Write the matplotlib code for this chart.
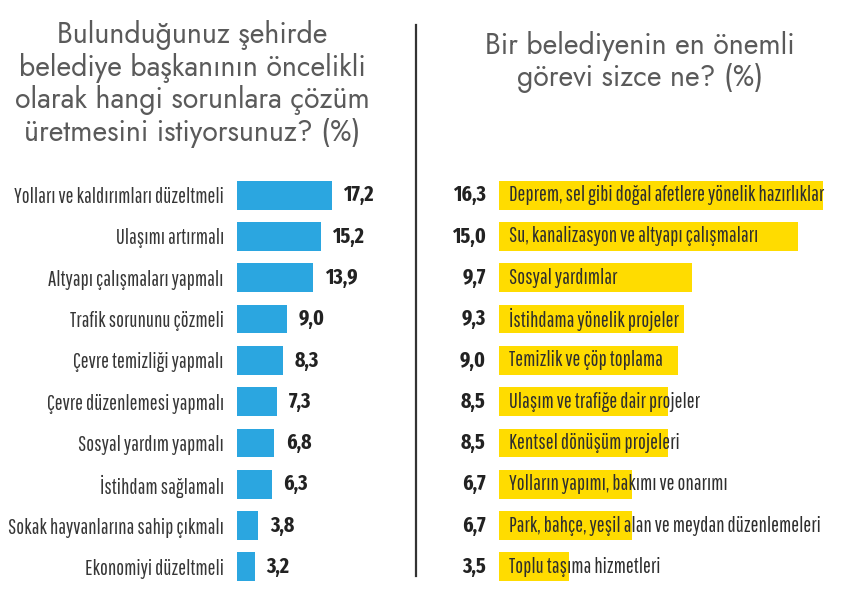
import matplotlib.pyplot as plt
from matplotlib.lines import Line2D

# left panel: which problems should the mayor solve first (%)
left_labels = [
    "Yolları ve kaldırımları düzeltmeli",
    "Ulaşımı artırmalı",
    "Altyapı çalışmaları yapmalı",
    "Trafik sorununu çözmeli",
    "Çevre temizliği yapmalı",
    "Çevre düzenlemesi yapmalı",
    "Sosyal yardım yapmalı",
    "İstihdam sağlamalı",
    "Sokak hayvanlarına sahip çıkmalı",
    "Ekonomiyi düzeltmeli",
]
left_values = [17.2, 15.2, 13.9, 9.0, 8.3, 7.3, 6.8, 6.3, 3.8, 3.2]

# right panel: most important duty of a municipality (%)
right_labels = [
    "Deprem, sel gibi doğal afetlere yönelik hazırlıklar",
    "Su, kanalizasyon ve altyapı çalışmaları",
    "Sosyal yardımlar",
    "İstihdama yönelik projeler",
    "Temizlik ve çöp toplama",
    "Ulaşım ve trafiğe dair projeler",
    "Kentsel dönüşüm projeleri",
    "Yolların yapımı, bakımı ve onarımı",
    "Park, bahçe, yeşil alan ve meydan düzenlemeleri",
    "Toplu taşıma hizmetleri",
]
right_values = [16.3, 15.0, 9.7, 9.3, 9.0, 8.5, 8.5, 6.7, 6.7, 3.5]

left_title = ("Bulunduğunuz şehirde\nbelediye başkanının öncelikli\n"
              "olarak hangi sorunlara çözüm\nüretmesini istiyorsunuz? (%)")
right_title = "Bir belediyenin en önemli\ngörevi sizce ne? (%)"

W, H = 860, 596
BLUE = "#2ba6e0"
YELLOW = "#ffdc00"
LABEL_FONT = ["Pathway Gothic One", "DejaVu Sans"]
NUM_FONT = ["Fira Sans Extra Condensed", "DejaVu Sans"]
TITLE_FONT = ["Jost", "DejaVu Sans"]


def fx(px):
    return px / W


def fy(px):
    return 1 - px / H


fig = plt.figure(figsize=(W / 100, H / 100), dpi=100)

row_top, row_bot = 174.4, 587.6
ax_b = fy(row_bot)
ax_h = (row_bot - row_top) / H

# left chart, 5.5 px per unit
axl = fig.add_axes([fx(237), ax_b, 20 * 5.5 / W, ax_h])
ypos = list(range(len(left_values)))
axl.barh(ypos, left_values, height=0.70, color=BLUE)
axl.set_xlim(0, 20)
axl.set_ylim(len(left_values) - 0.5, -0.5)
axl.set_yticks(ypos)
axl.set_yticklabels(left_labels, family=LABEL_FONT, fontsize=15, color="#363636")
axl.tick_params(axis="y", length=0, pad=9.5)
axl.set_xticks([])
for v, y in zip(left_values, ypos):
    axl.annotate(f"{v:.1f}".replace(".", ","), (v, y), xytext=(8.5, 0),
                 textcoords="offset points", ha="left", va="center",
                 family=NUM_FONT, fontsize=15.5, fontweight="bold", color="#222222")

# right chart, 19.9 px per unit
axr = fig.add_axes([fx(499), ax_b, 18 * 19.9 / W, ax_h])
ypos = list(range(len(right_values)))
axr.barh(ypos, right_values, height=0.70, color=YELLOW)
axr.set_xlim(0, 18)
axr.set_ylim(len(right_values) - 0.5, -0.5)
axr.set_xticks([])
axr.set_yticks([])
for v, y, lab in zip(right_values, ypos, right_labels):
    axr.annotate(f"{v:.1f}".replace(".", ","), (0, y), xytext=(-9.5, 0),
                 textcoords="offset points", ha="right", va="center",
                 family=NUM_FONT, fontsize=15.5, fontweight="bold", color="#222222",
                 annotation_clip=False)
    axr.annotate(lab, (0, y), xytext=(7, 0), textcoords="offset points",
                 ha="left", va="center", family=LABEL_FONT, fontsize=15,
                 color="#2e2e2e")

for ax in (axl, axr):
    for s in ax.spines.values():
        s.set_visible(False)
    ax.patch.set_alpha(0)

# titles
fig.text(fx(192), fy(84), left_title, ha="center", va="center", family=TITLE_FONT,
         fontsize=20.5, color="#5a5a5a", linespacing=1.12)
fig.text(fx(640), fy(62), right_title, ha="center", va="center", family=TITLE_FONT,
         fontsize=20.5, color="#5a5a5a", linespacing=1.12)

# divider
fig.add_artist(Line2D([fx(415.5), fx(415.5)], [fy(25), fy(576)], color="#333333",
                      linewidth=1.6, transform=fig.transFigure))

fig.savefig("out.png", dpi=100, facecolor="white")
